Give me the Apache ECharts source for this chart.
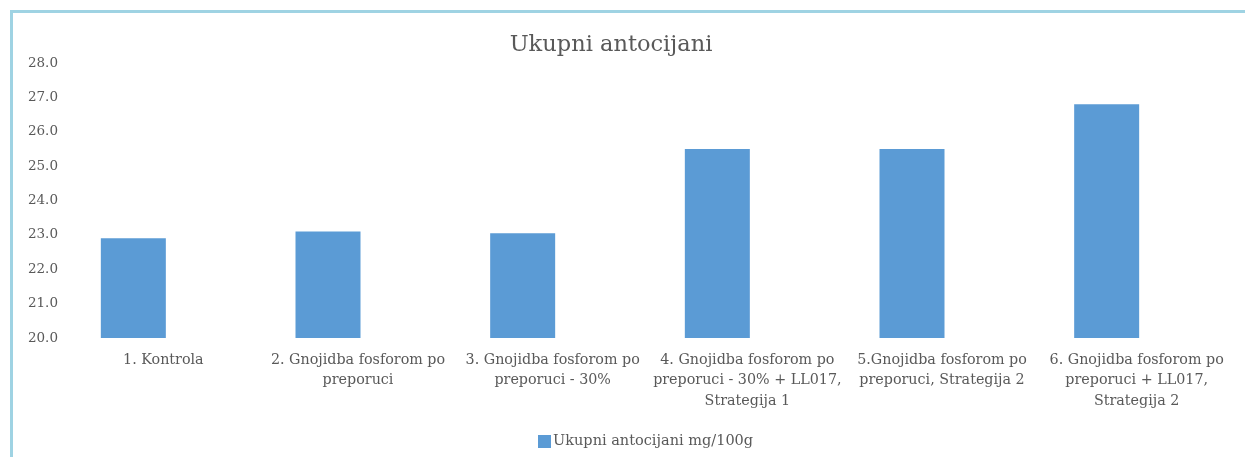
<!DOCTYPE html>
<html lang="hr">
<head>
    <meta charset="UTF-8">
    <title>Ukupni antocijani</title>
    <script src="https://cdn.jsdelivr.net/npm/echarts@6/dist/echarts.min.js"></script>
    <style>
        html, body { margin: 0; padding: 0; background: #fff; }
        #main { position: absolute; left: 0; top: 0; width: 1245px; height: 457px; }
        #frame {
            position: absolute; left: 10px; top: 10px; width: 1235px; height: 447px;
            border-top: 3px solid #9fd3e3; border-left: 3px solid #9fd3e3;
            box-sizing: border-box; pointer-events: none;
        }
    </style>
</head>
<body>
    <div id="main"></div>
    <div id="frame"></div>

    <script type="text/javascript">
        // kategorije (tretmani)
        var categories = [
            '1. Kontrola',
            '2. Gnojidba fosforom po\npreporuci',
            '3. Gnojidba fosforom po\npreporuci - 30%',
            '4. Gnojidba fosforom po\npreporuci - 30% + LL017,\nStrategija 1',
            '5.Gnojidba fosforom po\npreporuci, Strategija 2',
            '6. Gnojidba fosforom po\npreporuci + LL017,\nStrategija 2'
        ];
        // ukupni antocijani mg/100g
        var antocijani = [22.9, 23.1, 23.05, 25.5, 25.5, 26.8];
        var seriesName = 'Ukupni antocijani mg/100g';
        var yMin = 20, yMax = 28, yStep = 1;

        var font = '"DejaVu Serif", "Liberation Serif", serif';
        var myChart = echarts.init(document.getElementById('main'));
        var option = {
            animation: false,
            title: {
                text: 'Ukupni antocijani',
                left: 606,
                top: 29,
                textAlign: 'center',
                textStyle: { fontFamily: font, fontSize: 22.5, fontWeight: 'normal', color: '#595959' }
            },
            legend: {
                data: [seriesName],
                left: 533,
                top: 429,
                itemWidth: 13,
                itemHeight: 13,
                itemGap: 4,
                icon: 'rect',
                textStyle: { fontFamily: font, fontSize: 14.5, color: '#595959', padding: [0, 0, 0, -3] }
            },
            grid: {
                left: 36,
                right: 41,
                top: 63,
                bottom: 119,
                containLabel: false
            },
            xAxis: {
                type: 'category',
                data: categories,
                axisLine: { show: false },
                axisTick: { show: false },
                axisLabel: {
                    interval: 0,
                    margin: 12,
                    fontFamily: font,
                    fontSize: 14.3,
                    lineHeight: 20.5,
                    color: '#595959',
                    padding: [0, 0, 0, 60]
                }
            },
            yAxis: {
                type: 'value',
                min: yMin,
                max: yMax,
                interval: yStep,
                splitLine: { show: false },
                axisLine: { show: false },
                axisTick: { show: false },
                axisLabel: {
                    margin: -22,
                    fontFamily: font,
                    fontSize: 13.5,
                    color: '#595959',
                    formatter: function (v) { return v.toFixed(1); }
                }
            },
            series: [{
                name: seriesName,
                type: 'bar',
                data: antocijani,
                barWidth: 65,
                itemStyle: { color: '#5b9bd5' }
            }]
        };
        myChart.setOption(option);
    </script>
</body>
</html>
